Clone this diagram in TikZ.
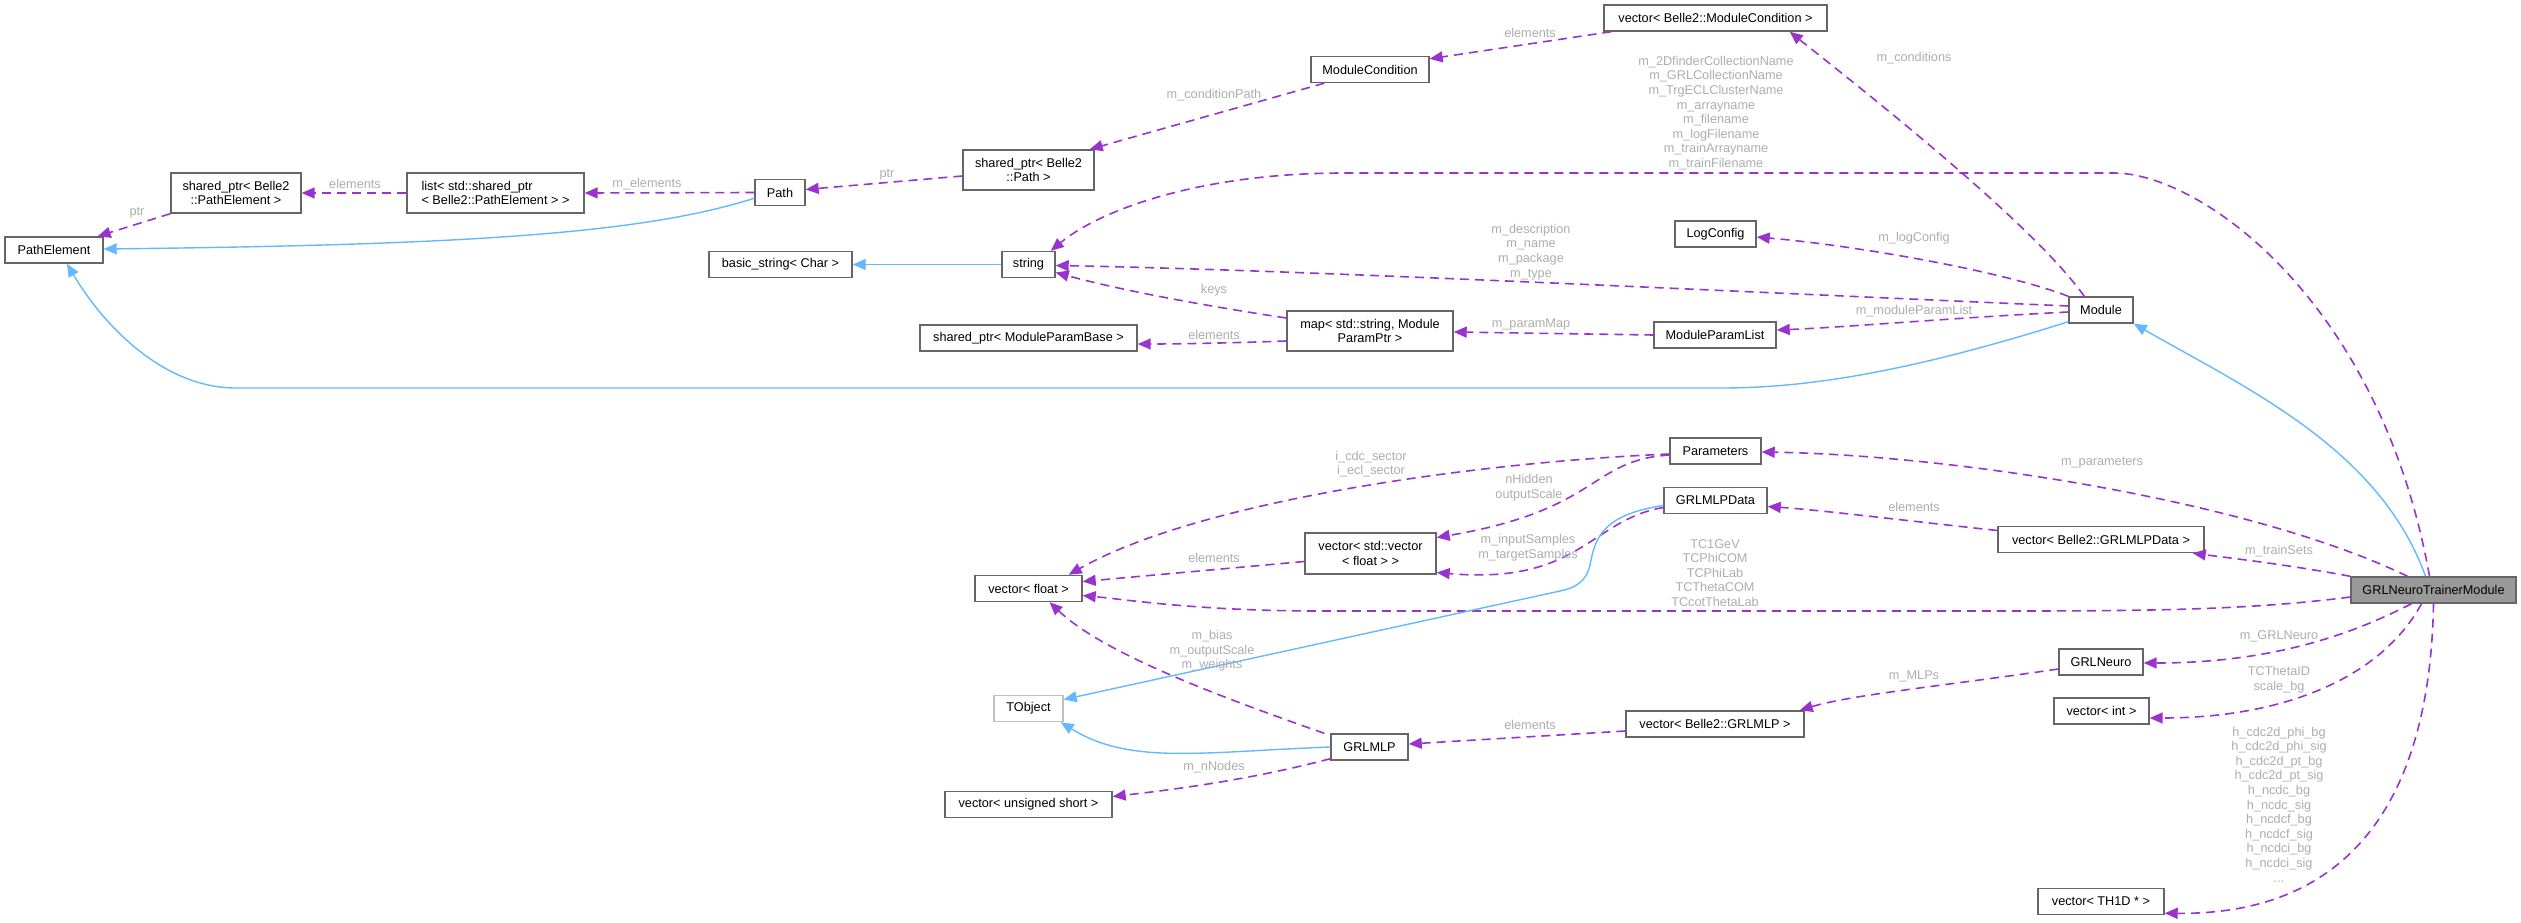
\documentclass[tikz,border=0pt]{standalone}
\usepackage{fontspec}
\setmainfont{Liberation Sans}
\usepackage{tikz}
\usetikzlibrary{arrows.meta, calc, positioning}
\definecolor{UseEdge}{HTML}{9A32CD}
\definecolor{InhEdge}{HTML}{63B8FF}
\definecolor{LblGrey}{HTML}{ADADAD}
\definecolor{BoxLine}{HTML}{666666}
\definecolor{BoxLight}{HTML}{BFBFBF}
\definecolor{MainFill}{HTML}{999999}

\begin{document}
\begin{tikzpicture}[
  x=1pt, y=-1pt,
  font={\fontsize{12.7}{14.6}\selectfont},
  cls/.style={rectangle, draw=BoxLine, line width=1.4pt, fill=white, inner sep=0pt, minimum height=26pt, align=center},
  cls2/.style={cls, minimum height=40pt},
  lbl/.style={text=LblGrey, inner sep=0pt, align=center},
  usage/.style={draw=UseEdge, line width=1.6pt, dash pattern=on 9pt off 6pt, -{Triangle[length=13pt, width=11pt]}},
  inherit/.style={draw=InhEdge, line width=1.4pt, -{Triangle[length=13pt, width=11pt]}}
]
\useasboundingbox (0,0) rectangle (2521,923);

% classes
\node[cls, minimum width=223pt] (vecCond) at (1715.5,18) {vector< Belle2::ModuleCondition >};
\node[cls, minimum width=118pt] (modCond) at (1370,69.5) {ModuleCondition};
\node[cls2, minimum width=131pt] (sptrPath) at (1028.5,170) {shared\_ptr< Belle2\\::Path >};
\node[cls2, minimum width=177pt, align=left] (listPE) at (495.5,193) {list< std::shared\_ptr\\< Belle2::PathElement > >};
\node[cls2, minimum width=130pt] (sptrPE) at (236,193) {shared\_ptr< Belle2\\::PathElement >};
\node[cls, minimum width=50pt] (path) at (780,192.5) {Path};
\node[cls, minimum width=98pt] (pathElem) at (54,250) {PathElement};
\node[cls, minimum width=143pt] (basicStr) at (780.5,264.5) {basic\_string< Char >};
\node[cls, minimum width=53pt] (str) at (1028.5,264.5) {string};
\node[cls, minimum width=81pt] (logCfg) at (1715.5,234) {LogConfig};
\node[cls, minimum width=64pt] (module) at (2101,310) {Module};
\node[cls, minimum width=217pt] (sptrMPB) at (1028.5,338) {shared\_ptr< ModuleParamBase >};
\node[cls2, minimum width=166pt] (paramMap) at (1370,331) {map< std::string, Module\\ParamPtr >};
\node[cls, minimum width=122pt] (modPL) at (1715,335) {ModuleParamList};
\node[cls, minimum width=91pt] (params) at (1715.5,451) {Parameters};
\node[cls, minimum width=103pt] (mlpData) at (1715.5,500.5) {GRLMLPData};
\node[cls2, minimum width=131pt, minimum height=41pt] (vecVecF) at (1370.5,553.5) {vector< std::vector\\< float > >};
\node[cls, minimum width=107pt] (vecF) at (1028.5,588.5) {vector< float >};
\node[cls, draw=BoxLight, minimum width=69pt] (tobj) at (1028.5,708.5) {TObject};
\node[cls, minimum width=77pt] (mlp) at (1369.5,747) {GRLMLP};
\node[cls, minimum width=178pt] (vecMLP) at (1715,724) {vector< Belle2::GRLMLP >};
\node[cls, minimum width=167pt] (vecUS) at (1028.5,804.5) {vector< unsigned short >};
\node[cls, minimum width=206pt] (vecData) at (2101,539.5) {vector< Belle2::GRLMLPData >};
\node[cls, fill=MainFill, minimum width=165pt] (trainer) at (2433.5,590) {GRLNeuroTrainerModule};
\node[cls, minimum width=84pt] (neuro) at (2101,662) {GRLNeuro};
\node[cls, minimum width=95pt] (vecInt) at (2101.5,711) {vector< int >};
\node[cls, minimum width=126pt] (vecTH) at (2101,901.5) {vector< TH1D * >};

% usage relations
\draw[usage] ($(vecCond.south west)+(8,0)$) -- ($(modCond.north east)+(0,3)$);
\draw[usage] ($(modCond.south west)+(14,0)$) -- ($(sptrPath.north east)+(-5,0)$);
\draw[usage] ($(sptrPath.west)+(0,6)$) -- ($(path.east)+(0,-3)$);
\draw[usage] (path.west) -- (listPE.east);
\draw[usage] (listPE.west) -- (sptrPE.east);
\draw[usage] (sptrPE.south west) -- ($(pathElem.north east)+(-6,0)$);
\draw[usage] ($(module.north west)+(16,0)$) .. controls (2030,220) and (1850,80) .. ($(vecCond.south east)+(-38,0)$);
\draw[usage] (module.north west) .. controls (2000,270) and (1850,245) .. ($(logCfg.east)+(0,3)$);
\draw[usage] ($(module.west)+(0,-4)$) .. controls (1700,290) and (1300,270) .. ($(str.east)+(0,1)$);
\draw[usage] ($(module.west)+(0,2)$) .. controls (1950,318) and (1850,327) .. ($(modPL.east)+(0,-5)$);
\draw[usage] (modPL.west) -- ($(paramMap.east)+(0,1)$);
\draw[usage] ($(paramMap.west)+(0,-13)$) .. controls (1200,305) and (1120,290) .. ($(str.east)+(0,8)$);
\draw[usage] ($(paramMap.west)+(0,10)$) .. controls (1230,343) and (1180,344) .. ($(sptrMPB.east)+(0,6)$);
\draw[usage] ($(trainer.north)+(-4,0)$) .. controls (2380,300) and (2200,173) .. (2114,173) -- (1344,173)
  .. controls (1200,173) and (1100,210) .. ($(str.north east)+(-5,0)$);
\draw[usage] ($(trainer.north)+(-26,0)$) .. controls (2250,500) and (1950,455) .. ($(params.east)+(0,1)$);
\draw[usage] (trainer.north west) .. controls (2290,565) and (2230,558) .. ($(vecData.south east)+(-12,0)$);
\draw[usage] ($(vecData.west)+(0,-9)$) .. controls (1900,520) and (1820,510) .. ($(mlpData.east)+(0,6)$);
\draw[usage] ($(trainer.west)+(0,7)$) .. controls (2250,610) and (2150,611) .. (2000,611) -- (1320,611)
  .. controls (1200,611) and (1130,600) .. ($(vecF.east)+(0,7)$);
\draw[usage] ($(trainer.south)+(-22,0)$) .. controls (2360,630) and (2280,663) .. ($(neuro.east)+(0,1)$);
\draw[usage] ($(neuro.west)+(0,7)$) .. controls (1950,685) and (1850,695) .. ($(vecMLP.north east)+(-5,0)$);
\draw[usage] ($(vecMLP.west)+(0,7)$) -- ($(mlp.east)+(0,-3)$);
\draw[usage] ($(mlp.north west)+(-6,0)$) .. controls (1200,690) and (1100,650) .. ($(vecF.south)+(21,0)$);
\draw[usage] ($(mlp.south west)+(0,-2)$) .. controls (1250,780) and (1170,790) .. ($(vecUS.east)+(0,-8)$);
\draw[usage] ($(params.west)+(0,3)$) .. controls (1480,462) and (1200,500) .. ($(vecF.north east)+(-14,0)$);
\draw[usage] ($(params.west)+(0,4)$) .. controls (1590,460) and (1600,510) .. ($(vecVecF.east)+(0,-16)$);
\draw[usage] ($(mlpData.west)+(0,7)$) .. controls (1590,520) and (1580,585) .. ($(vecVecF.east)+(0,19)$);
\draw[usage] ($(vecVecF.west)+(0,8)$) -- ($(vecF.east)+(0,-7)$);
\draw[usage] ($(trainer.south)+(-12,0)$) .. controls (2380,680) and (2280,718) .. ($(vecInt.east)+(0,7)$);
\draw[usage] (trainer.south) .. controls (2430,800) and (2350,915) .. ($(vecTH.south east)+(0,-2)$);

% inheritance
\draw[inherit] ($(path.south west)+(0,-8)$) .. controls (640,235) and (450,245) .. ($(pathElem.east)+(0,-1)$);
\draw[inherit] (str.west) -- (basicStr.east);
\draw[inherit] ($(module.south west)+(0,-2)$) .. controls (1900,375) and (1800,388) .. (1721,388) -- (236,388)
  .. controls (160,388) and (100,320) .. ($(pathElem.south)+(13,0)$);
\draw[inherit] ($(trainer.north)+(-8,0)$) .. controls (2380,450) and (2250,390) .. (module.south east);
\draw[inherit] ($(mlpData.west)+(0,5)$) .. controls (1600,515) and (1595,540) .. (1590,565)
  .. controls (1586,582) and (1575,588) .. (1560,591) -- ($(tobj.east)+(0,-9)$);
\draw[inherit] (mlp.west) .. controls (1200,752) and (1130,765) .. ($(tobj.south east)+(-3,0)$);

% edge labels
\node[lbl] (lbCondElem) at (1530,33) {elements};
\node[lbl] (lbCondPath) at (1214,95) {m\_conditionPath};
\node[lbl] (lbPtrPath) at (887,175) {ptr};
\node[lbl] (lbElems) at (647,184) {m\_elements};
\node[lbl] (lbListElem) at (355,184) {elements};
\node[lbl] (lbPtrPE) at (137,213) {ptr};
\node[lbl] (lbConds) at (1914,58) {m\_conditions};
\node[lbl] (lbStrings) at (1716,113) {m\_2DfinderCollectionName\\m\_GRLCollectionName\\m\_TrgECLClusterName\\m\_arrayname\\m\_filename\\m\_logFilename\\m\_trainArrayname\\m\_trainFilename};
\node[lbl] (lbLogCfg) at (1914,238) {m\_logConfig};
\node[lbl] (lbDescr) at (1531,252) {m\_description\\m\_name\\m\_package\\m\_type};
\node[lbl] (lbKeys) at (1214,290) {keys};
\node[lbl] (lbMapElem) at (1214,335) {elements};
\node[lbl] (lbParamMap) at (1531,324) {m\_paramMap};
\node[lbl] (lbParamList) at (1914,311) {m\_moduleParamList};
\node[lbl] (lbParams) at (2102,463) {m\_parameters};
\node[lbl] (lbSectors) at (1371,464) {i\_cdc\_sector\\i\_ecl\_sector};
\node[lbl] (lbHidden) at (1529,488) {nHidden\\outputScale};
\node[lbl] (lbDataElem) at (1914,507) {elements};
\node[lbl] (lbVecElem) at (1214,558) {elements};
\node[lbl] (lbSamples) at (1528,548) {m\_inputSamples\\m\_targetSamples};
\node[lbl] (lbTC) at (1715,573) {TC1GeV\\TCPhiCOM\\TCPhiLab\\TCThetaCOM\\TCcotThetaLab};
\node[lbl] (lbTrainSets) at (2279,551) {m\_trainSets};
\node[lbl] (lbWeights) at (1212,651) {m\_bias\\m\_outputScale\\m\_weights};
\node[lbl] (lbMLPs) at (1914,676) {m\_MLPs};
\node[lbl] (lbMLPElem) at (1530,725) {elements};
\node[lbl] (lbNNodes) at (1214,767) {m\_nNodes};
\node[lbl] (lbNeuro) at (2279,636) {m\_GRLNeuro};
\node[lbl] (lbThetaID) at (2279,680) {TCThetaID\\scale\_bg};
\node[lbl] (lbHists) at (2279,804.5) {h\_cdc2d\_phi\_bg\\h\_cdc2d\_phi\_sig\\h\_cdc2d\_pt\_bg\\h\_cdc2d\_pt\_sig\\h\_ncdc\_bg\\h\_ncdc\_sig\\h\_ncdcf\_bg\\h\_ncdcf\_sig\\h\_ncdci\_bg\\h\_ncdci\_sig\\...};
\end{tikzpicture}
\end{document}
